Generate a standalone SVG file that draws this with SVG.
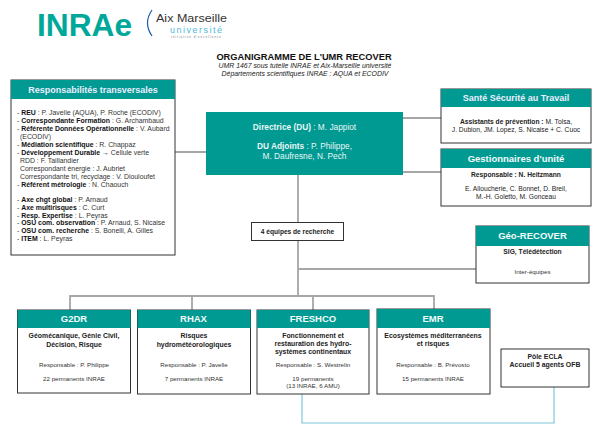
<svg xmlns="http://www.w3.org/2000/svg" width="600" height="432" viewBox="0 0 600 432">
<style>
text{font-family:"Liberation Sans",Arial,sans-serif;fill:#222}
.h{fill:#009a93}
.b{fill:#fff;stroke:#333;stroke-width:1}
.ht{fill:#eef;font-weight:bold;text-anchor:middle;font-size:9px}
.hl{fill:#f4fbfa;font-weight:bold;text-anchor:middle;font-size:9.500px}
.m{font-size:6.700px;text-anchor:middle}
.s{font-size:6.200px;text-anchor:middle;fill:#333}
.bm{font-size:6.900px;font-weight:bold;text-anchor:middle}
.l{font-size:6.900px;fill:#333}
.l tspan.k{font-weight:bold;fill:#111}
.c{fill:none;stroke:#a6a6a6;stroke-width:1.800}
.w{fill:#e8f6f5;font-size:8.300px;text-anchor:middle}
.w tspan{font-weight:bold}
</style>
<rect width="600" height="432" fill="#fff"/>
<g id="connectors">
<path class="c" d="M175 152H206M403 118H441M403 172H441M298 175V222M298 240V296M70 310V296H434V310M192 296V310M313 296V310M298 269H476"/>
<path d="M302 394V423H554V387" fill="none" stroke="#7cc8dc" stroke-width="1.200"/>
</g>
<g id="logos">
<text x="37" y="36" font-size="32" font-weight="bold" style="fill:#00a89a" textLength="95" lengthAdjust="spacingAndGlyphs">INRAe</text>
<path d="M152 10Q143 23 152 36" fill="none" stroke="#1f5fa8" stroke-width="1.200"/>
<text x="156" y="21.500" font-size="10" textLength="71" lengthAdjust="spacingAndGlyphs" style="fill:#333">Aix Marseille</text>
<text x="170" y="32.500" font-size="9" textLength="52" lengthAdjust="spacing" style="fill:#4fb9dc">université</text>
<text x="171" y="37.500" font-size="3" textLength="50" style="fill:#777">initiative d'excellence</text>
</g>
<g id="title">
<text x="304" y="60" font-size="9.300" font-weight="bold" text-anchor="middle" style="fill:#111">ORGANIGRAMME DE L'UMR RECOVER</text>
<text x="305" y="68" font-size="6.900" font-style="italic" text-anchor="middle">UMR 1467 sous tutelle INRAE et Aix-Marseille université</text>
<text x="305" y="76" font-size="6.900" font-style="italic" text-anchor="middle">Départements scientifiques INRAE : AQUA et ECODIV</text>
</g>
<g id="resp">
<rect class="b" x="11" y="80" width="164" height="175"/>
<rect class="h" x="11" y="80" width="164" height="19"/>
<text class="ht" x="93" y="92.500">Responsabilités transversales</text>
<text class="l"><tspan x="17" y="115">- </tspan><tspan class="k">REU</tspan> : P. Javelle (AQUA), P. Roche (ECODIV)<tspan x="17" y="123">- </tspan><tspan class="k">Correspondante Formation</tspan> : G. Archambaud<tspan x="17" y="131">- </tspan><tspan class="k">Référente Données Opérationnelle</tspan> : V. Aubard<tspan x="20" y="139">(ECODIV)</tspan><tspan x="17" y="147">- </tspan><tspan class="k">Médiation scientifique</tspan> : R. Chappaz<tspan x="17" y="155">- </tspan><tspan class="k">Développement Durable →</tspan> Cellule verte<tspan x="20" y="163">RDD : F. Taillandier</tspan><tspan x="20" y="171">Correspondant énergie : J. Aubriet</tspan><tspan x="20" y="179">Correspondante tri, recyclage : V. Diouloufet</tspan><tspan x="17" y="187">- </tspan><tspan class="k">Référent métrologie</tspan> : N. Chaouch<tspan x="17" y="202">- </tspan><tspan class="k">Axe chgt global</tspan> : P. Arnaud<tspan x="17" y="210">- </tspan><tspan class="k">Axe multirisques</tspan> : C. Curt<tspan x="17" y="217.500">- </tspan><tspan class="k">Resp. Expertise</tspan> : L. Peyras<tspan x="17" y="225">- </tspan><tspan class="k">OSU com. observation</tspan> : P. Arnaud, S. Nicaise<tspan x="17" y="233">- </tspan><tspan class="k">OSU com. recherche</tspan> : S. Bonelli, A. Gilles<tspan x="17" y="241">- </tspan><tspan class="k">ITEM</tspan> : L. Peyras</text>
</g>
<g id="direction">
<rect class="h" x="206" y="112" width="197" height="63"/>
<text class="w" x="304.500" y="129.500"><tspan>Directrice (DU)</tspan> : M. Jappiot</text>
<text class="w" x="304.500" y="148.500"><tspan>DU Adjoints</tspan> : P. Philippe,</text>
<text class="w" x="304.500" y="158.500">M. Daufresne, N. Pech</text>
</g>
<g id="equipes">
<rect class="b" x="251.500" y="222.500" width="92" height="18"/>
<text class="bm" x="297.500" y="233.500" style="font-size:6.600px">4 équipes de recherche</text>
</g>
<g id="sante">
<rect class="b" x="441" y="89" width="150" height="54"/>
<rect class="h" x="441" y="89" width="150" height="18"/>
<text class="ht" x="516" y="101">Santé Sécurité au Travail</text>
<text class="m" x="516" y="124"><tspan font-weight="bold">Assistants de prévention :</tspan>  M. Tolsa,</text>
<text class="m" x="516" y="132">J. Dubion, JM. Lopez, S. Nicaise + C. Cuoc</text>
</g>
<g id="gestion">
<rect class="b" x="441" y="149" width="150" height="57"/>
<rect class="h" x="441" y="149" width="150" height="19"/>
<text class="hl" x="516" y="161.500">Gestionnaires d'unité</text>
<text class="m" x="516" y="176.500" font-weight="bold">Responsable : N. Heitzmann</text>
<text class="m" x="516" y="191">E. Alloucherie, C. Bonnet, D. Breil,</text>
<text class="m" x="516" y="199">M.-H. Goletto, M. Gonceau</text>
</g>
<g id="geo">
<rect class="b" x="476" y="226" width="113" height="57"/>
<rect class="h" x="476" y="226" width="113" height="20"/>
<text class="hl" x="532.500" y="239">Géo-RECOVER</text>
<text class="m" x="532.500" y="254" font-weight="bold">SIG, Télédétection</text>
<text class="s" x="532.500" y="284" dy="-10">Inter-équipes</text>
</g>
<g id="g2dr">
<rect class="b" x="17.500" y="310" width="113" height="83"/>
<rect class="h" x="17.500" y="310" width="113" height="18"/>
<text class="hl" x="74" y="322">G2DR</text>
<text class="bm" x="74" y="338">Géomécanique, Génie Civil,</text>
<text class="bm" x="74" y="346.500">Décision, Risque</text>
<text class="s" x="74" y="367">Responsable : P. Philippe</text>
<text class="s" x="74" y="381">22 permanents INRAE</text>
</g>
<g id="rhax">
<rect class="b" x="137.500" y="310" width="113" height="84"/>
<rect class="h" x="137.500" y="310" width="113" height="18"/>
<text class="hl" x="193.500" y="322">RHAX</text>
<text class="bm" x="194" y="337.500">Risques</text>
<text class="bm" x="194" y="346.500">hydrométéorologiques</text>
<text class="s" x="194" y="367">Responsable : P. Javelle</text>
<text class="s" x="194" y="381">7 permanents INRAE</text>
</g>
<g id="freshco">
<rect class="b" x="257" y="310" width="112" height="84"/>
<rect class="h" x="257" y="310" width="112" height="18"/>
<text class="hl" x="313" y="322">FRESHCO</text>
<text class="bm" x="313" y="337.500">Fonctionnement et</text>
<text class="bm" x="313" y="345.500">restauration des hydro-</text>
<text class="bm" x="313" y="353.500">systèmes continentaux</text>
<text class="s" x="313" y="367">Responsable : S. Westrelin</text>
<text class="s" x="313" y="381">19 permanents</text>
<text class="s" x="313" y="387.500">(13 INRAE, 6 AMU)</text>
</g>
<g id="emr">
<rect class="b" x="377" y="309" width="113" height="85"/>
<rect class="h" x="377" y="309" width="113" height="19"/>
<text class="hl" x="433" y="321.500">EMR</text>
<text class="bm" x="433" y="338">Ecosystèmes méditerranéens</text>
<text class="bm" x="433" y="345.500">et risques</text>
<text class="s" x="433" y="367">Responsable : B. Prévosto</text>
<text class="s" x="433" y="380.500">15 permanents INRAE</text>
</g>
<g id="ecla">
<rect class="b" x="501" y="349" width="88" height="38"/>
<text class="bm" x="545" y="359">Pôle ECLA</text>
<text class="bm" x="545" y="367">Accueil 5 agents OFB</text>
</g>
</svg>
